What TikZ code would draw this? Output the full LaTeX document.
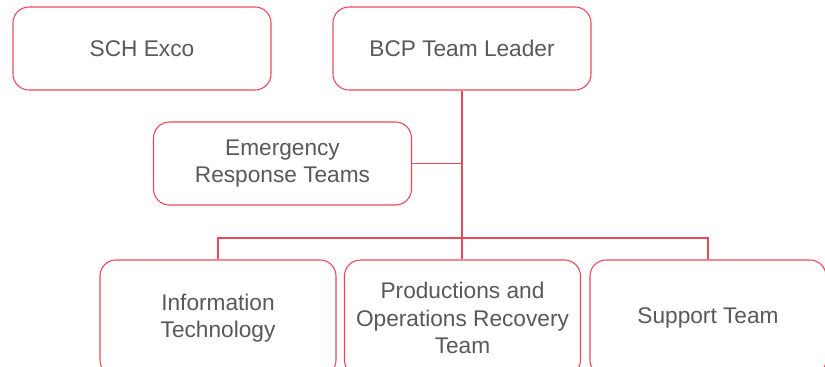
\documentclass[tikz,border=0pt]{standalone}
\usepackage{fontspec}
\setmainfont{Liberation Sans}
\usetikzlibrary{positioning}
\definecolor{boxred}{RGB}{234,72,88}
\definecolor{textgray}{RGB}{89,89,89}

\begin{document}
\begin{tikzpicture}[x=0.75pt, y=-0.75pt,
    orgbox/.style={draw=boxred, line width=0.8pt, rounded corners=12pt, fill=white,
        align=center, text=textgray, inner sep=2pt,
        font=\fontsize{17pt}{20.7pt}\selectfont},
    topbox/.style={orgbox, minimum width={258*0.75pt}, minimum height={83*0.75pt}},
    teambox/.style={orgbox, minimum width={236*0.75pt}, minimum height={116*0.75pt}},
    link/.style={draw=boxred, line width=0.8pt}]
    \useasboundingbox (0,0) rectangle (825,367);

    % Top row
    \node[topbox] (exco) at (142,48.5) {SCH Exco};
    \node[topbox] (lead) at (462,48.5) {BCP Team Leader};

    % Emergency teams
    \node[topbox] (ert) at (282.5,163.5) {Emergency\\Response Teams};

    % Recovery teams
    \node[teambox] (it) at (218,318) {Information\\Technology};
    \node[teambox] (prod) at (462.5,318) {Productions and\\Operations Recovery\\Team};
    \node[teambox] (sup) at (708,318) {Support Team};

    % Connectors
    \coordinate (junc) at (lead.south |- 0,238);
    \draw[link] (lead.south) -- (junc);
    \draw[link] (ert.east) -- (ert.east -| lead.south);
    \draw[link] (it.north) |- (junc) -| (sup.north);
    \draw[link] (junc) -- (junc |- prod.north);
\end{tikzpicture}
\end{document}
